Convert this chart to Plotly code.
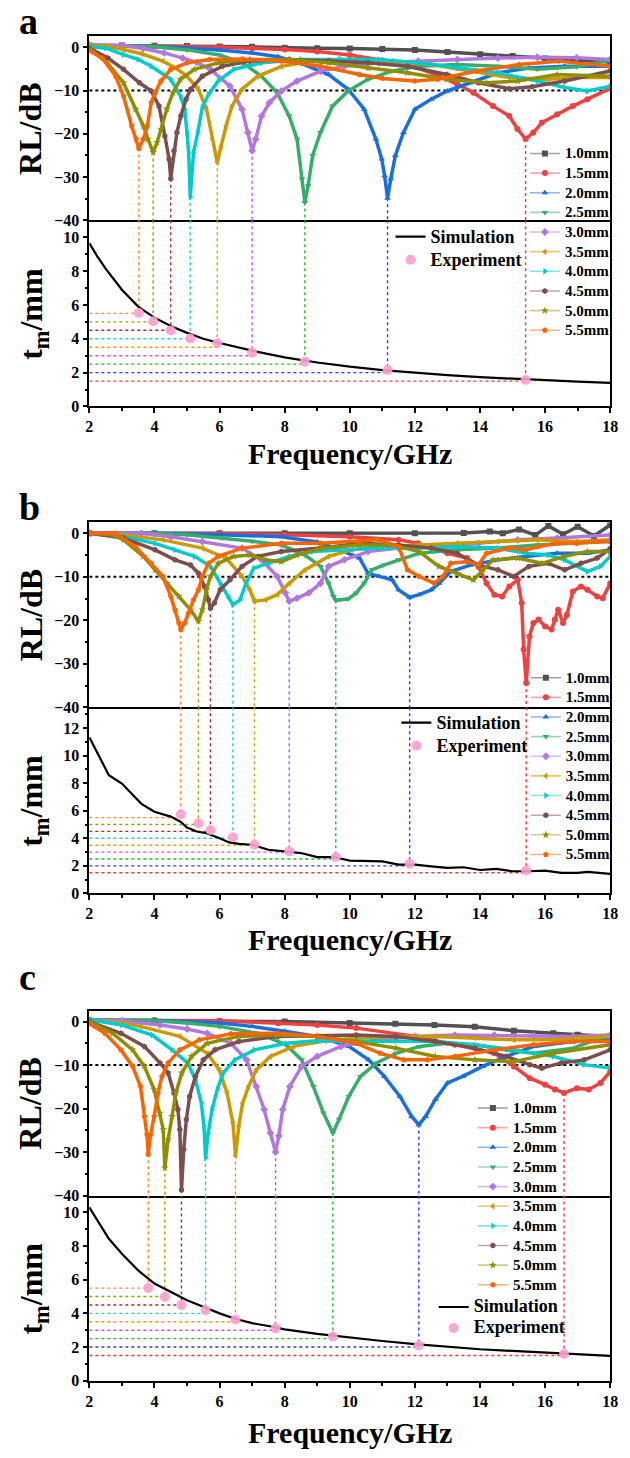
import plotly.graph_objects as go

W, H = 630, 1458
FONT = "Liberation Serif"

# ---------------- data ----------------
thick_labels = ["1.0mm", "1.5mm", "2.0mm", "2.5mm", "3.0mm",
                "3.5mm", "4.0mm", "4.5mm", "5.0mm", "5.5mm"]
thickness = [1.5, 2.0, 2.5, 3.0, 3.5, 4.0, 4.5, 5.0, 5.5]
freq_range = [2, 18]
rl_ref = -10

# ---- panel a : RL curves (freq GHz, RL dB) ----
a10 = [(2, 0.4), (3, 0.4), (4, 0.35), (5, 0.3), (6, 0.2), (7, 0.1), (8, -0.1), (9, -0.2), (10, -0.3),
       (11, -0.4), (12, -0.6), (13, -1.1), (14, -1.6), (15, -2.0), (16, -2.6), (17, -3.0), (18, -3.4)]
a15 = [(2, 0.3), (3, 0.3), (4, 0.2), (5, 0.1), (6, 0), (7, -0.2), (8, -0.5), (9, -1.0), (10, -1.8),
       (11, -3.0), (12, -4.5), (12.7, -6.5), (13.3, -8.5), (13.8, -10.5), (14.4, -13.6), (14.9, -15.9),
       (15.15, -18.9), (15.4, -21.2), (15.64, -19.7), (15.9, -17.4), (16.37, -15.5), (16.85, -13.6),
       (17.3, -12.0), (18, -9.5)]
a20 = [(2, 0.4), (3, 0.4), (4, 0.2), (5, -0.2), (6, -0.6), (7, -1.3), (7.8, -2.2), (8.6, -4.0), (9.35, -6.3),
       (9.95, -9.7), (10.44, -14.3), (10.8, -21.2), (10.98, -25.8), (11.07, -29.7), (11.16, -34.9),
       (11.26, -30.4), (11.4, -25.0), (11.65, -19.7), (12.0, -14.3), (12.5, -12.0), (13.0, -10.1),
       (13.7, -8.2), (14.55, -5.9), (15.5, -4.8), (16.6, -4.4), (18, -4.4)]
a25 = [(2, 0.4), (3, 0.4), (4, 0.1), (5, -0.6), (6, -1.8), (6.7, -3.6), (7.29, -6.7), (7.77, -10.5),
       (8.14, -15.9), (8.38, -21.2), (8.53, -30.4), (8.62, -35.9), (8.72, -32.0), (8.86, -25.0), (9.1, -19.7),
       (9.47, -13.6), (9.95, -10.1), (10.56, -7.4), (11.29, -5.5), (12.1, -4.4), (13.3, -4.0), (14.55, -4.4),
       (15.76, -5.1), (16.97, -4.5), (18, -3.0)]
a30 = [(2, 0.6), (3, 0.4), (3.66, -0.3), (4.3, -1.3), (4.87, -2.5), (5.3, -3.5), (5.72, -5.1), (6.32, -9.0),
       (6.69, -14.3), (6.87, -19.7), (7.0, -23.9), (7.11, -21.2), (7.29, -15.9), (7.53, -12.8), (7.9, -10.1),
       (8.38, -7.8), (9.1, -5.5), (9.83, -4.4), (10.9, -3.6), (12.1, -3.2), (13.3, -2.8), (14.55, -2.5),
       (15.76, -2.3), (16.97, -2.4), (18, -2.8)]
a35 = [(2, 0.5), (2.5, 0.3), (3.05, -0.5), (3.6, -1.5), (4.26, -3.2), (4.7, -5.0), (5.0, -6.7), (5.35, -9.7),
       (5.6, -14.3), (5.78, -21.2), (5.93, -26.6), (6.05, -22.8), (6.2, -18.2), (6.38, -13.6), (6.69, -9.7),
       (7.17, -6.7), (7.9, -4.4), (8.86, -3.2), (10.07, -2.8), (11.29, -3.2), (12.5, -4.0), (13.7, -5.5),
       (14.9, -7.0), (16.1, -7.4), (16.9, -7.0), (18, -7.0)]
a40 = [(2, 0.2), (2.5, -0.2), (3.05, -1.7), (3.5, -2.8), (3.9, -4.4), (4.5, -7.4), (4.8, -11.3), (4.93, -14.3),
       (5.0, -19.7), (5.05, -24.3), (5.1, -34.6), (5.2, -24.3), (5.33, -19.7), (5.47, -13.9), (5.66, -10.9),
       (5.96, -7.8), (6.44, -5.1), (7.29, -3.6), (8.5, -2.8), (9.7, -2.7), (10.9, -2.8), (12.1, -3.6),
       (13.3, -4.8), (14.55, -5.9), (15.76, -7.8), (16.6, -9.3), (17.3, -10.1), (18, -9.0)]
a45 = [(2, -0.2), (2.57, -2.5), (3.05, -5.1), (3.54, -8.2), (3.9, -10.1), (4.14, -13.6), (4.32, -20.5),
       (4.45, -25.8), (4.5, -30.4), (4.6, -23.9), (4.69, -19.7), (4.81, -15.9), (4.97, -12.0), (5.11, -9.7),
       (5.47, -6.7), (6.08, -4.4), (6.93, -3.2), (8.14, -2.8), (9.35, -3.1), (10.56, -3.6), (11.77, -4.4),
       (12.98, -6.3), (13.95, -8.2), (14.9, -9.6), (15.6, -9.1), (16.6, -7.8), (18, -5.5)]
a50 = [(2, -0.3), (2.57, -3.8), (3.05, -8.2), (3.42, -14.3), (3.66, -18.2), (3.8, -21.2), (3.96, -24.3),
       (4.08, -22.0), (4.2, -19.0), (4.38, -14.3), (4.57, -10.5), (4.8, -7.4), (5.23, -5.1), (5.96, -3.6),
       (6.93, -2.8), (8.14, -2.8), (9.35, -3.6), (10.56, -4.8), (11.77, -5.9), (12.98, -7.4), (14.2, -8.2),
       (15.16, -7.8), (16.37, -6.3), (18, -6.7)]
a55 = [(2, -0.8), (2.4, -2.5), (2.81, -6.7), (3.05, -11.3), (3.3, -18.2), (3.44, -21.2), (3.52, -23.4),
       (3.66, -21.2), (3.78, -18.2), (3.9, -12.8), (4.02, -10.5), (4.2, -7.8), (4.5, -5.1), (5.0, -3.6),
       (5.7, -2.8), (6.7, -2.7), (7.9, -3.2), (9.1, -4.4), (10.3, -6.3), (11.0, -7.2), (12.0, -7.8),
       (12.7, -7.4), (13.9, -5.5), (15.2, -4.0), (16.4, -3.2), (18, -4.4)]

# ---- panel b : RL curves ----
b10 = [(2, 0), (4, 0), (6, 0), (8, 0), (10, 0), (12, 0), (13.5, 0.1), (14.3, 0.4), (14.7, 0), (15.2, 0.9),
       (15.7, -0.4), (16.1, 1.7), (16.55, -0.2), (17.0, 1.5), (17.5, -0.6), (18, 1.9)]
b15 = [(2, 0), (4, 0), (6, -0.1), (8, -0.3), (10, -0.8), (11.5, -1.5), (12.1, -2.3), (13, -4.6), (13.6, -5.7),
       (13.95, -7.6), (14.2, -11.5), (14.44, -14.1), (14.68, -14.5), (14.9, -12.2), (15.16, -10.7),
       (15.28, -16.0), (15.34, -26.7), (15.42, -34.4), (15.52, -23.7), (15.64, -20.6), (15.8, -19.8),
       (16.0, -21.4), (16.2, -22.1), (16.3, -19.8), (16.4, -17.6), (16.55, -20.6), (16.67, -18.7),
       (16.85, -13.4), (17.1, -12.2), (17.3, -13.0), (17.6, -14.5), (17.77, -14.9), (18, -11.5)]
b20 = [(2, 0), (4, 0), (6, -0.3), (7.9, -0.8), (9, -2.0), (9.7, -3.8), (10.3, -5.7), (10.56, -9.2),
       (10.9, -9.9), (11.3, -10.7), (11.5, -13.0), (11.84, -14.7), (12.13, -14.1), (12.5, -13.0),
       (12.74, -11.5), (13.1, -8.8), (13.7, -7.3), (14.55, -6.1), (15.4, -5.3), (16.37, -4.6), (17.3, -4.6),
       (18, -3.8)]
b25 = [(2, 0), (4, 0), (5, -0.3), (6.08, -1.1), (7.0, -1.8), (7.9, -2.7), (8.62, -5.0), (9.1, -7.6),
       (9.35, -11.5), (9.5, -14.5), (9.57, -15.4), (9.95, -15.1), (10.2, -13.7), (10.44, -11.5), (10.68, -8.4),
       (11.04, -7.3), (11.5, -6.1), (12.13, -4.6), (13.3, -3.8), (14.55, -3.4), (15.76, -2.7), (16.97, -2.3),
       (18, -1.9)]
b30 = [(2, 0), (3.6, 0), (4.5, -0.8), (5.47, -1.9), (6.69, -3.4), (7.29, -6.1), (7.77, -9.9), (8.02, -13.7),
       (8.14, -15.6), (8.38, -14.9), (8.74, -13.7), (9.1, -11.5), (9.35, -7.6), (9.83, -6.1), (10.56, -4.2),
       (11.5, -3.4), (12.74, -3.1), (13.95, -2.3), (15.16, -1.5), (16.37, -1.1), (18, -0.4)]
b35 = [(2, 0), (3.05, -0.4), (4.26, -1.5), (5.47, -3.4), (6.2, -5.7), (6.69, -9.9), (6.93, -13.0),
       (7.07, -15.6), (7.41, -15.3), (7.77, -14.1), (8.14, -11.5), (8.62, -8.4), (9.35, -5.3), (10.07, -3.8),
       (10.9, -3.1), (12.1, -2.7), (13.3, -2.3), (14.55, -1.9), (15.76, -1.5), (16.97, -1.9), (18, -1.5)]
b40 = [(2, 0), (3.05, -0.8), (4.02, -2.3), (4.63, -3.8), (5.23, -5.3), (5.72, -7.6), (6.02, -11.5),
       (6.26, -14.5), (6.41, -16.4), (6.63, -15.3), (6.81, -11.5), (7.05, -8.0), (7.53, -6.9), (8.14, -5.3),
       (8.86, -4.2), (9.7, -3.8), (10.9, -3.4), (12.1, -3.4), (13.3, -3.1), (14.55, -3.4), (15.4, -4.6),
       (16.1, -5.0), (16.6, -6.1), (17.3, -8.8), (17.7, -7.6), (18, -5.3)]
b45 = [(2, 0), (3.05, -1.1), (4.02, -3.8), (4.63, -6.1), (5.11, -7.3), (5.35, -9.2), (5.54, -12.2),
       (5.66, -15.3), (5.72, -17.2), (5.84, -16.0), (6.02, -13.0), (6.32, -10.7), (6.69, -7.6), (7.17, -5.3),
       (7.9, -4.2), (9.1, -3.4), (10.3, -2.3), (11.5, -2.7), (12.5, -3.4), (13.3, -4.6), (13.95, -7.3),
       (14.55, -8.4), (15.04, -9.9), (15.5, -7.6), (16.1, -6.9), (16.6, -8.4), (17.1, -6.9), (17.6, -5.7),
       (18, -3.5)]
b50 = [(2, 0), (2.7, -0.3), (3.05, -1.5), (3.66, -5.3), (4.02, -8.4), (4.38, -11.5), (4.75, -14.5),
       (5.11, -17.6), (5.35, -20.2), (5.47, -17.6), (5.6, -13.0), (5.72, -9.9), (5.96, -6.9), (6.44, -5.3),
       (6.93, -5.0), (7.41, -6.1), (7.9, -6.5), (8.38, -5.0), (9.1, -3.4), (10.3, -2.7), (11.29, -2.7),
       (12.13, -4.2), (12.74, -7.6), (13.3, -9.2), (13.8, -10.7), (14.1, -8.4), (14.4, -6.1), (15.16, -5.7),
       (15.9, -6.9), (16.6, -5.3), (17.3, -4.2), (18, -4.2)]
b55 = [(2, 0), (2.8, 0), (3.42, -3.1), (3.9, -6.9), (4.26, -9.9), (4.5, -14.5), (4.63, -17.6), (4.75, -20.6),
       (4.81, -22.1), (4.93, -20.6), (5.05, -18.3), (5.2, -15.3), (5.35, -13.0), (5.47, -9.9), (5.66, -6.9),
       (5.96, -5.3), (6.69, -3.4), (7.9, -2.3), (9.1, -2.3), (10.3, -1.9), (10.9, -1.5), (11.5, -3.1),
       (11.77, -8.4), (12.13, -9.9), (12.6, -11.5), (12.86, -9.9), (13.1, -6.9), (13.6, -6.5), (13.95, -7.3),
       (14.2, -4.6), (14.9, -3.4), (15.4, -3.8), (15.76, -3.1), (16.37, -2.3), (16.97, -2.3), (17.6, -1.9),
       (18, -1.9)]

# ---- panel c : RL curves ----
c10 = [(2, 0.3), (4, 0.2), (6, 0.1), (8, 0), (10, -0.3), (11.4, -0.5), (12.6, -0.8), (13.84, -1.2),
       (15.04, -2.1), (16.25, -2.7), (17, -3.0), (18, -3.4)]
c15 = [(2, 0.3), (4, 0.3), (6, 0.2), (7.8, -0.4), (9, -0.8), (10.2, -1.5), (12.03, -3.4), (13.23, -5.3),
       (14.44, -7.3), (15.04, -10.3), (15.53, -13.0), (16.0, -14.5), (16.3, -15.6), (16.58, -16.4),
       (16.98, -15.3), (17.34, -15.6), (17.7, -14.1), (18, -11.5)]
c20 = [(2, 0.3), (4, 0.3), (6, -0.3), (7, -1.1), (8, -2.2), (9, -3.4), (9.97, -5.7), (10.58, -8.8),
       (11.06, -12.6), (11.54, -17.2), (11.9, -21.8), (12.12, -23.7), (12.33, -21.8), (12.63, -17.9),
       (13.0, -14.1), (13.47, -12.6), (14.08, -10.3), (14.8, -8.0), (15.65, -5.7), (16.86, -4.6), (18, -4.2)]
c25 = [(2, 0.3), (4, 0.2), (5, -0.3), (6, -1.1), (7.19, -2.7), (8.04, -5.3), (8.52, -8.8), (8.88, -14.9),
       (9.19, -21.0), (9.48, -25.6), (9.67, -22.5), (9.97, -17.2), (10.33, -12.6), (10.82, -9.5),
       (11.42, -7.3), (12.15, -5.7), (13.0, -5.0), (13.84, -5.3), (14.8, -6.5), (15.65, -7.3), (16.86, -6.1),
       (18, -3.0)]
c30 = [(2, 0.3), (3, 0.2), (4.17, -0.8), (5.0, -1.7), (5.62, -2.7), (6.35, -5.0), (6.83, -8.8), (7.13, -14.9),
       (7.37, -20.2), (7.56, -25.6), (7.72, -30.0), (7.82, -26.3), (7.94, -20.2), (8.16, -14.9), (8.52, -10.3),
       (9.0, -8.0), (9.73, -5.7), (10.8, -4.2), (12.0, -3.4), (13.23, -3.1), (14.44, -3.1), (15.65, -3.3),
       (16.86, -3.4), (18, -3.1)]
c35 = [(2, 0.3), (3.0, -0.3), (3.57, -1.1), (4.78, -3.4), (5.62, -7.3), (5.99, -11.1), (6.23, -16.4),
       (6.41, -23.3), (6.49, -30.8), (6.59, -24.0), (6.71, -18.7), (6.89, -14.9), (7.13, -11.1), (7.56, -8.0),
       (8.28, -5.7), (9.25, -4.4), (10.2, -3.8), (11.42, -3.4), (12.63, -3.4), (13.84, -3.8), (15.04, -4.2),
       (16.25, -4.2), (18, -3.4)]
c40 = [(2, 0.4), (3.0, -0.8), (3.93, -3.1), (4.54, -6.5), (5.02, -9.5), (5.26, -13.4), (5.44, -18.7),
       (5.52, -24.0), (5.57, -31.3), (5.65, -25.6), (5.77, -20.2), (5.93, -15.6), (6.11, -11.8), (6.47, -8.8),
       (7.07, -6.5), (8.04, -5.0), (9.0, -4.4), (10.2, -4.4), (11.42, -4.4), (12.63, -4.6), (13.84, -5.3),
       (15.04, -6.5), (16.25, -8.0), (17.2, -9.9), (18, -10.7)]
c45 = [(2, 0), (2.97, -2.7), (3.69, -5.7), (4.17, -9.5), (4.42, -11.8), (4.6, -16.4), (4.72, -20.2),
       (4.78, -24.8), (4.83, -38.7), (4.9, -29.4), (4.98, -22.5), (5.08, -17.2), (5.26, -12.6), (5.5, -8.8),
       (5.86, -6.5), (6.59, -4.6), (7.8, -3.4), (9.0, -3.3), (10.2, -3.1), (11.42, -3.4), (12.63, -4.6),
       (13.84, -6.1), (14.8, -8.0), (15.53, -9.9), (15.9, -10.7), (16.5, -9.5), (17.2, -8.8), (18, -6.5)]
c50 = [(2, 0), (2.72, -2.7), (3.33, -6.5), (3.69, -10.3), (3.99, -15.6), (4.17, -21.0), (4.27, -24.8),
       (4.32, -33.6), (4.42, -27.1), (4.54, -21.8), (4.66, -16.4), (4.84, -11.8), (5.14, -8.0), (5.62, -5.0),
       (6.59, -3.4), (7.8, -3.1), (9.0, -3.4), (10.2, -4.6), (11.42, -6.1), (12.63, -8.0), (13.84, -8.8),
       (15.04, -9.2), (16.25, -7.3), (18, -5.3)]
c55 = [(2, -0.5), (2.48, -2.7), (2.97, -6.5), (3.33, -10.3), (3.57, -14.9), (3.69, -21.8), (3.77, -26.0),
       (3.81, -30.5), (3.88, -26.0), (3.99, -21.8), (4.11, -16.4), (4.23, -12.6), (4.42, -9.5), (4.78, -6.5),
       (5.38, -4.2), (6.35, -2.8), (7.8, -2.7), (9.0, -3.4), (10.2, -5.0), (10.94, -7.3), (11.66, -8.8),
       (12.39, -8.8), (13.23, -8.0), (14.44, -6.5), (15.65, -5.3), (16.86, -4.6), (18, -4.6)]

# ---- dips (order 1.5 ... 5.5 mm) and experimental matching thickness ----
a_dip_f = [15.4, 11.16, 8.62, 7.0, 5.93, 5.1, 4.5, 3.96, 3.52]
a_dip_rl = [-21.2, -34.9, -35.9, -23.9, -26.6, -34.6, -30.4, -24.3, -23.4]
a_exp_t = [1.57, 2.16, 2.65, 3.18, 3.73, 4.02, 4.49, 5.04, 5.53]

b_dip_f = [15.42, 11.84, 9.57, 8.14, 7.07, 6.41, 5.72, 5.35, 4.81]
b_dip_rl = [-34.4, -14.7, -15.4, -15.6, -15.6, -16.4, -17.2, -20.2, -22.1]
b_exp_t = [1.66, 2.16, 2.64, 3.05, 3.53, 4.08, 4.6, 5.09, 5.74]

c_dip_f = [16.58, 12.12, 9.48, 7.72, 6.49, 5.57, 4.83, 4.32, 3.81]
c_dip_rl = [-16.4, -23.7, -25.6, -30.0, -30.8, -31.3, -38.7, -33.6, -30.5]
c_exp_t = [1.59, 2.09, 2.62, 3.11, 3.64, 4.19, 4.49, 4.98, 5.51]

# ---- simulated matching thickness ----
a_sim_f = [2, 2.25, 2.5, 2.75, 3, 3.5, 4, 4.5, 5, 5.5, 6, 7, 8, 9, 10, 11, 12, 13, 14, 15, 16, 17, 18]
a_sim_t = [9.65, 8.85, 8.15, 7.5, 6.9, 5.9, 5.25, 4.75, 4.35, 4.0, 3.75, 3.3, 2.9, 2.6, 2.35, 2.15, 1.98,
           1.85, 1.73, 1.63, 1.55, 1.47, 1.40]
b_sim_f = [2, 2.3, 2.6, 3, 3.3, 3.6, 4, 4.5, 4.8, 5, 5.3, 5.6, 6, 6.3, 6.6, 7, 7.5, 8, 8.5, 9, 9.5, 10,
           10.5, 11, 11.5, 12, 12.5, 13, 13.5, 14, 14.5, 15, 15.5, 16, 16.5, 17, 17.3, 18]
b_sim_t = [11.33, 9.9, 8.57, 7.97, 7.25, 6.5, 5.93, 5.57, 5.2, 4.78, 4.49, 4.37, 4.0, 3.7, 3.6, 3.53, 3.17,
           3.05, 2.93, 2.64, 2.64, 2.38, 2.33, 2.33, 2.09, 2.09, 1.97, 1.85, 1.9, 1.7, 1.78, 1.61, 1.61,
           1.66, 1.49, 1.49, 1.56, 1.42]
c_sim_f = [2, 2.3, 2.6, 3, 3.5, 4, 4.5, 5, 5.5, 6, 6.5, 7, 7.5, 8, 9, 10, 11, 12, 13, 14, 15, 16, 17, 18]
c_sim_t = [10.3, 9.4, 8.43, 7.54, 6.55, 5.77, 5.28, 4.78, 4.39, 4.0, 3.67, 3.42, 3.25, 3.05, 2.78, 2.56,
           2.36, 2.17, 2.0, 1.87, 1.77, 1.67, 1.57, 1.48]

# ---------------- styles ----------------
colors = ["#515151", "#F14040", "#1A6FDF", "#37AD6B", "#B177DE",
          "#CC9900", "#00CBCC", "#7D4E4E", "#8E8E00", "#FB6501"]
legend_line_colors = ["rgba(81,81,81,0.55)", "rgba(241,64,64,0.45)", "rgba(26,111,223,0.5)",
                      "rgba(55,173,107,0.5)", "rgba(177,119,222,0.5)", "rgba(204,153,0,0.55)",
                      "rgba(0,203,204,0.5)", "rgba(125,78,78,0.5)", "rgba(142,142,0,0.45)",
                      "rgba(251,101,1,0.5)"]
symbols = ["square", "circle", "triangle-up", "triangle-down", "diamond",
           "triangle-left", "triangle-right", "hexagon", "star", "pentagon"]
guide_colors = ["#FF3333", "#3333FF", "#22BB22", "#BB55FF", "#E6A000",
                "#22CCCC", "#A03030", "#A0A000", "#FF8833"]
pink = "#FF9ECF"


def xp(px):
    return px / W


def yp(py):
    return 1 - py / H


X_DOM = [xp(87), xp(618)]

panels = [
    dict(tag="a", curves=[a10, a15, a20, a25, a30, a35, a40, a45, a50, a55],
         dip_f=a_dip_f, dip_rl=a_dip_rl, exp_t=a_exp_t, sim_f=a_sim_f, sim_t=a_sim_t,
         rl_px=(36.7, 221.7), tm_px=(221.7, 409.0), rl_max=2.5, tm_max=11.0,
         label_y=21, xt_y=456, rl_leg=(531, 139.5, 12.8), se_leg=(394, 221.5, 15.4)),
    dict(tag="b", curves=[b10, b15, b20, b25, b30, b35, b40, b45, b50, b55],
         dip_f=b_dip_f, dip_rl=b_dip_rl, exp_t=b_exp_t, sim_f=b_sim_f, sim_t=b_sim_t,
         rl_px=(525.7, 711.7), tm_px=(711.7, 899.0), rl_max=2.5, tm_max=13.5,
         label_y=510, xt_y=945, rl_leg=(532, 667, 12.8), se_leg=(400, 710.5, 15.4)),
    dict(tag="c", curves=[c10, c15, c20, c25, c30, c35, c40, c45, c50, c55],
         dip_f=c_dip_f, dip_rl=c_dip_rl, exp_t=c_exp_t, sim_f=c_sim_f, sim_t=c_sim_t,
         rl_px=(1017.0, 1203.0), tm_px=(1203.0, 1389.3), rl_max=2.5, tm_max=11.0,
         label_y=983, xt_y=1441, rl_leg=(478, 1100, 12.8), se_leg=(438, 1299.5, 13.85)),
]

RL_MIN = -40
fig = go.Figure()
layout = {}
annotations = []

TICKFONT = dict(family=FONT, size=16, color="black", weight="bold")
LW = 1.6

for i, p in enumerate(panels):
    n_rl, n_tm = 2 * i + 1, 2 * i + 2
    xr = "x" if n_rl == 1 else f"x{n_rl}"
    yr = "y" if n_rl == 1 else f"y{n_rl}"
    xt, yt = f"x{n_tm}", f"y{n_tm}"
    leg_rl = "legend" if i == 0 else f"legend{2 * i + 1}"
    leg_se = f"legend{2 * i + 2}"

    # --- -10 dB reference line
    fig.add_trace(go.Scatter(x=freq_range, y=[rl_ref, rl_ref], xaxis=xr, yaxis=yr, mode="lines",
                             line=dict(color="black", width=2, dash="dot"), showlegend=False,
                             hoverinfo="skip"))
    # --- guide lines
    for k, t in enumerate(thickness):
        f = p["dip_f"][k]
        gc = guide_colors[k]
        fig.add_trace(go.Scatter(x=[f, f], y=[p["dip_rl"][k], RL_MIN], xaxis=xr, yaxis=yr, mode="lines",
                                 line=dict(color=gc, width=1.4, dash="dot"), showlegend=False,
                                 hoverinfo="skip"))
        fig.add_trace(go.Scatter(x=[f, f], y=[p["tm_max"], t], xaxis=xt, yaxis=yt, mode="lines",
                                 line=dict(color=gc, width=1.4, dash="dot"), showlegend=False,
                                 hoverinfo="skip"))
        fig.add_trace(go.Scatter(x=[freq_range[0], f], y=[t, t], xaxis=xt, yaxis=yt, mode="lines",
                                 line=dict(color=gc, width=1.4, dash="dot"), showlegend=False,
                                 hoverinfo="skip"))
    # --- RL curves
    for j, cur in enumerate(p["curves"]):
        fx = [q[0] for q in cur]
        fy = [q[1] for q in cur]
        fig.add_trace(go.Scatter(x=fx, y=fy, xaxis=xr, yaxis=yr, mode="lines+markers",
                                 line=dict(color=colors[j], width=3.5),
                                 marker=dict(symbol=symbols[j], size=6, color=colors[j]),
                                 showlegend=False, name=thick_labels[j]))
    # --- legend entries for RL curves
    for j, lab in enumerate(thick_labels):
        fig.add_trace(go.Scatter(x=[None], y=[None], xaxis=xr, yaxis=yr, mode="lines+markers",
                                 line=dict(color=legend_line_colors[j], width=1.6),
                                 marker=dict(symbol=symbols[j], size=6, color=colors[j]),
                                 name=f'<span style="font-size:15px">{lab}</span>',
                                 legend=leg_rl, showlegend=True))
    # --- simulation & experiment
    fig.add_trace(go.Scatter(x=p["sim_f"], y=p["sim_t"], xaxis=xt, yaxis=yt, mode="lines",
                             line=dict(color="black", width=2.2),
                             name='<span style="font-size:18px">Simulation</span>', legend=leg_se))
    fig.add_trace(go.Scatter(x=p["dip_f"], y=p["exp_t"], xaxis=xt, yaxis=yt, mode="markers",
                             marker=dict(color=pink, size=10, opacity=0.9),
                             name='<span style="font-size:18px">Experiment</span>', legend=leg_se))

    # --- axes
    rl_dom = [yp(p["rl_px"][1]), yp(p["rl_px"][0])]
    tm_dom = [yp(p["tm_px"][1]), yp(p["tm_px"][0])]
    xbase = dict(range=freq_range, domain=X_DOM, showline=True, linecolor="black", linewidth=LW,
                 showgrid=False, zeroline=False, fixedrange=True)
    layout["xaxis" if n_rl == 1 else f"xaxis{n_rl}"] = dict(**xbase, anchor=yr, showticklabels=False,
                                                            ticks="", mirror=True)
    layout[f"xaxis{n_tm}"] = dict(**xbase, anchor=yt, ticks="outside", ticklen=5, tickwidth=LW,
                                  tickcolor="black", tick0=2, dtick=2, tickfont=TICKFONT, mirror=False,
                                  minor=dict(ticks="outside", dtick=1, ticklen=3, tickwidth=LW,
                                             tickcolor="black"))
    ybase = dict(showline=True, linecolor="black", linewidth=LW, mirror=True, showgrid=False,
                 zeroline=False, ticks="outside", ticklen=5, tickwidth=LW, tickcolor="black",
                 tickfont=TICKFONT, fixedrange=True)
    layout["yaxis" if n_rl == 1 else f"yaxis{n_rl}"] = dict(
        **ybase, domain=rl_dom, anchor=xr, range=[RL_MIN, p["rl_max"]], tick0=0, dtick=10,
        minor=dict(ticks="outside", dtick=5, ticklen=3, tickwidth=LW, tickcolor="black"))
    layout[f"yaxis{n_tm}"] = dict(
        **ybase, domain=tm_dom, anchor=xt, range=[0, p["tm_max"]], tick0=0, dtick=2,
        minor=dict(ticks="outside", dtick=1, ticklen=3, tickwidth=LW, tickcolor="black"))

    # --- legends
    lx, ly, lfs = p["rl_leg"]
    layout[leg_rl] = dict(x=xp(lx), y=yp(ly), xanchor="left", yanchor="top", bgcolor="rgba(0,0,0,0)",
                          borderwidth=0, tracegroupgap=0,
                          font=dict(family=FONT, size=lfs, color="black", weight="bold"))
    sx, sy, sfs = p["se_leg"]
    layout[leg_se] = dict(x=xp(sx), y=yp(sy), xanchor="left", yanchor="top", bgcolor="rgba(0,0,0,0)",
                          borderwidth=0, tracegroupgap=0,
                          font=dict(family=FONT, size=sfs, color="black", weight="bold"))

    # --- text
    annotations.append(dict(text=f"<b>{p['tag']}</b>", x=xp(13), y=yp(p["label_y"]), xref="paper",
                            yref="paper", xanchor="left", yanchor="middle", showarrow=False,
                            font=dict(family=FONT, size=38, color="black")))
    annotations.append(dict(text="<b>RL/dB</b>", x=xp(27), y=yp(sum(p["rl_px"]) / 2), xref="paper",
                            yref="paper", xanchor="center", yanchor="middle", textangle=-90,
                            showarrow=False, font=dict(family=FONT, size=32, color="black")))
    annotations.append(dict(text="<b>t<sub>m</sub>/mm</b>", x=xp(30), y=yp(sum(p["tm_px"]) / 2),
                            xref="paper", yref="paper", xanchor="center", yanchor="middle",
                            textangle=-90, showarrow=False, font=dict(family=FONT, size=32, color="black")))
    annotations.append(dict(text="<b>Frequency/GHz</b>", x=xp(352.5), y=yp(p["xt_y"]), xref="paper",
                            yref="paper", xanchor="center", yanchor="middle", showarrow=False,
                            font=dict(family=FONT, size=30, color="black")))

fig.update_layout(**layout)
fig.update_layout(width=W, height=H, margin=dict(l=0, r=0, t=0, b=0), paper_bgcolor="white",
                  plot_bgcolor="white", annotations=annotations, hovermode=False,
                  font=dict(family=FONT, color="black"))

fig.write_html("out.html", config={"displayModeBar": False},
               post_script="document.body.style.margin='0';")
